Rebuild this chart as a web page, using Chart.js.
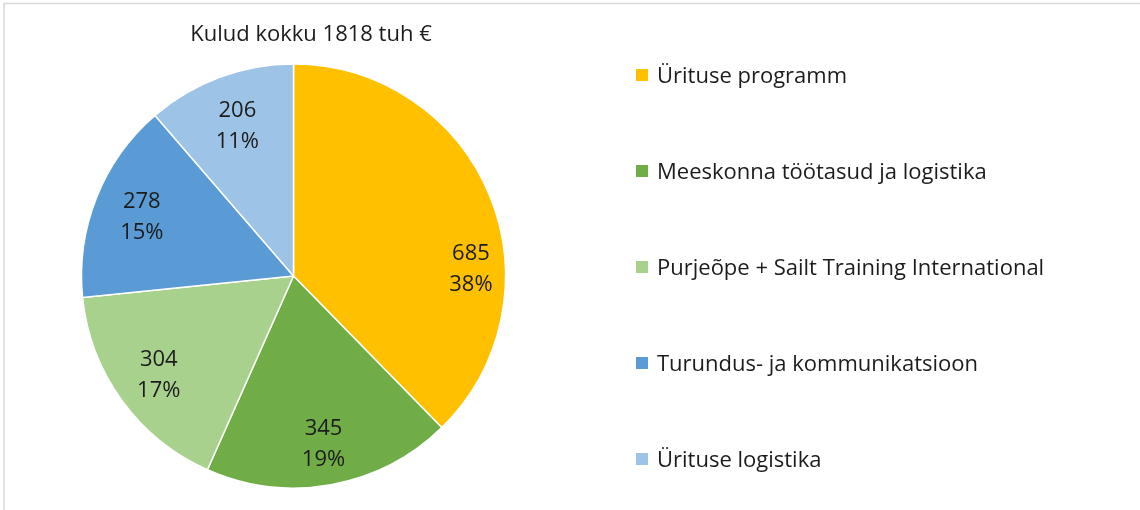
<!DOCTYPE html>
<html><head><meta charset="utf-8">
<script src="https://cdn.jsdelivr.net/npm/chart.js@4.4.1/dist/chart.umd.min.js"></script>
<style>html,body{margin:0;padding:0;background:#fff;overflow:hidden}</style>
</head><body>
<canvas id="c" width="1140" height="510"></canvas>
<script>
const titleText = 'Kulud kokku 1818 tuh €';
const categories = ['Ürituse programm', 'Meeskonna töötasud ja logistika', 'Purje\u00f5pe + Sailt Training International', 'Turundus- ja kommunikatsioon', 'Ürituse logistika'];
const values = [685, 345, 304, 278, 206];
const colors = ['#FFC000', '#70AD47', '#A9D18E', '#5B9BD5', '#9DC3E6'];

const FONT = '"Open Sans", Lato, sans-serif';
const TEXT = '#1c1c1c';
const TEXT_DY = 1.5;

const framePlugin = {
  id: 'frame',
  beforeDraw(chart) {
    const ctx = chart.ctx;
    ctx.save();
    ctx.fillStyle = '#fff';
    ctx.fillRect(0, 0, chart.width, chart.height);
    ctx.strokeStyle = '#d9d9d9';
    ctx.lineWidth = 1.5;
    ctx.beginPath();
    ctx.moveTo(4, chart.height);
    ctx.lineTo(4, 3.5);
    ctx.lineTo(chart.width, 3.5);
    ctx.stroke();
    ctx.restore();
  }
};

const titlePlugin = {
  id: 'titleText',
  afterDraw(chart, args, opts) {
    const ctx = chart.ctx;
    ctx.save();
    ctx.font = opts.size + 'px ' + FONT;
    ctx.fillStyle = TEXT;
    ctx.textAlign = 'center';
    ctx.textBaseline = 'middle';
    ctx.fillText(titleText, opts.x, opts.y + TEXT_DY);
    ctx.restore();
  }
};

const sliceLabelPlugin = {
  id: 'sliceLabels',
  afterDatasetsDraw(chart, args, opts) {
    const ctx = chart.ctx;
    const meta = chart.getDatasetMeta(0);
    const data = chart.data.datasets[0].data;
    const total = data.reduce((a, b) => a + b, 0);
    ctx.save();
    ctx.font = opts.size + 'px ' + FONT;
    ctx.fillStyle = TEXT;
    ctx.textAlign = 'center';
    ctx.textBaseline = 'middle';
    meta.data.forEach((arc, i) => {
      const p = arc.getProps(['x', 'y', 'startAngle', 'endAngle', 'outerRadius'], true);
      const a = (p.startAngle + p.endAngle) / 2 + (opts.angleShift[i] || 0) * Math.PI / 180;
      const r = p.outerRadius * opts.radius[i];
      const cx = p.x + Math.cos(a) * r;
      const cy = p.y + Math.sin(a) * r + TEXT_DY;
      const pct = Math.round(data[i] / total * 100) + '%';
      ctx.fillText(String(data[i]), cx, cy - opts.lineGap / 2);
      ctx.fillText(pct, cx, cy + opts.lineGap / 2);
    });
    ctx.restore();
  }
};

const legendPlugin = {
  id: 'sideLegend',
  afterDraw(chart, args, opts) {
    const ctx = chart.ctx;
    const labels = chart.data.labels;
    const bg = chart.data.datasets[0].backgroundColor;
    ctx.save();
    ctx.font = opts.size + 'px ' + FONT;
    ctx.textAlign = 'left';
    ctx.textBaseline = 'middle';
    labels.forEach((lab, i) => {
      const y = opts.y0 + i * opts.step;
      ctx.fillStyle = bg[i];
      ctx.fillRect(opts.x, y - opts.box / 2, opts.box, opts.box);
      ctx.fillStyle = TEXT;
      ctx.fillText(lab, opts.x + opts.box + opts.gap, y + TEXT_DY);
    });
    ctx.restore();
  }
};

new Chart(document.getElementById('c'), {
  type: 'pie',
  data: {
    labels: categories,
    datasets: [{
      data: values,
      backgroundColor: colors,
      borderColor: '#ffffff',
      borderWidth: 1.5
    }]
  },
  options: {
    responsive: false,
    animation: false,
    layout: { padding: { left: 80.75, top: 63.25, right: 633.75, bottom: 21.25 } },
    plugins: {
      legend: { display: false },
      tooltip: { enabled: false },
      titleText: { x: 311, y: 33, size: 22 },
      sliceLabels: { size: 22, lineGap: 31, radius: [0.838, 0.80, 0.785, 0.77, 0.76], angleShift: [19.5, 0, 0, 0, 0] },
      sideLegend: { x: 636, y0: 75, step: 96, box: 12, gap: 9, size: 22 }
    }
  },
  plugins: [framePlugin, titlePlugin, sliceLabelPlugin, legendPlugin]
});
</script>
</body></html>
